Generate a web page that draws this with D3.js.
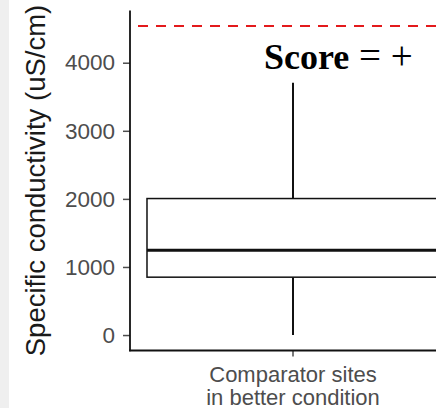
<!DOCTYPE html>
<html><head><meta charset="utf-8">
<script src="https://cdn.jsdelivr.net/npm/d3@7"></script>
<style>html,body{margin:0;padding:0;background:#fff;overflow:hidden}</style>
</head><body>
<script>
const categories = ["Comparator sites\nin better condition"];
const lowerWhisker = [0];
const q1 = [850];
const median = [1245];
const q3 = [2005];
const upperWhisker = [3705];
const thresholdValue = 4540;
const yTicks = [0, 1000, 2000, 3000, 4000];
const yTitle = "Specific conductivity (uS/cm)";
const annotationBold = "Score";
const annotationRest = " = +";

const W = 436, H = 408;
const svg = d3.select("body").append("svg").attr("width", W).attr("height", H);
svg.append("rect").attr("width", W).attr("height", H).attr("fill", "#fff");
svg.append("rect").attr("x", 0).attr("y", 0).attr("width", 9).attr("height", H).attr("fill", "#efefef");

const panel = {left: 130, right: 456, top: 10.5, bottom: 350.5};
const dataMax = Math.max(thresholdValue, d3.max(upperWhisker));
const dataMin = Math.min(0, d3.min(lowerWhisker));
const pad = (dataMax - dataMin) * 0.05;
const y = d3.scaleLinear().domain([dataMin - pad, dataMax + pad]).range([panel.bottom, panel.top]);
const x = d3.scaleBand().domain(categories).range([panel.left, panel.right]).paddingInner(0).paddingOuter(0.0582);

// threshold line
svg.append("line")
  .attr("x1", panel.left).attr("x2", W)
  .attr("y1", y(thresholdValue)).attr("y2", y(thresholdValue))
  .attr("stroke", "#e31a1c").attr("stroke-width", 2)
  .attr("stroke-dasharray", "10,8").attr("stroke-dashoffset", -8);

// boxplot
categories.forEach((c, i) => {
  const cx = x(c) + x.bandwidth() / 2;
  const g = svg.append("g");
  g.append("line").attr("x1", cx).attr("x2", cx).attr("y1", y(q3[i])).attr("y2", y(upperWhisker[i]))
    .attr("stroke", "#111").attr("stroke-width", 2);
  g.append("line").attr("x1", cx).attr("x2", cx).attr("y1", y(q1[i])).attr("y2", y(lowerWhisker[i]))
    .attr("stroke", "#111").attr("stroke-width", 2);
  g.append("rect").attr("x", x(c)).attr("width", x.bandwidth())
    .attr("y", y(q3[i])).attr("height", y(q1[i]) - y(q3[i]))
    .attr("fill", "#fff").attr("stroke", "#111").attr("stroke-width", 1.5);
  g.append("line").attr("x1", x(c)).attr("x2", x(c) + x.bandwidth())
    .attr("y1", y(median[i])).attr("y2", y(median[i]))
    .attr("stroke", "#111").attr("stroke-width", 3);
});

// axes
const yAxis = svg.append("g").attr("transform", `translate(${panel.left},0)`)
  .call(d3.axisLeft(y).tickValues(yTicks).tickSize(7).tickPadding(8).tickFormat(d3.format("d")));
yAxis.select(".domain").remove();
yAxis.selectAll(".tick line").attr("stroke", "#4d4d4d").attr("stroke-width", 1.5);
yAxis.selectAll(".tick text").attr("fill", "#4d4d4d").style("font-family", "Liberation Sans, Arial, sans-serif").style("font-size", "22.5px");

const xAxis = svg.append("g").attr("transform", `translate(0,${panel.bottom})`)
  .call(d3.axisBottom(x).tickSize(6).tickFormat(() => ""));
xAxis.select(".domain").remove();
xAxis.selectAll(".tick line").attr("stroke", "#4d4d4d").attr("stroke-width", 1.5);
xAxis.selectAll(".tick").each(function(d) {
  const lines = d.split("\n");
  lines.forEach((line, k) => {
    d3.select(this).append("text").attr("fill", "#4d4d4d").attr("text-anchor", "middle")
      .style("font-family", "Liberation Sans, Arial, sans-serif").style("font-size", "22px")
      .attr("x", 0).attr("y", 31 + k * 23).text(line);
  });
});

// axis lines
svg.append("line").attr("x1", panel.left).attr("x2", panel.left).attr("y1", panel.top).attr("y2", panel.bottom + 0.75)
  .attr("stroke", "#111").attr("stroke-width", 1.8);
svg.append("line").attr("x1", panel.left - 0.9).attr("x2", W).attr("y1", panel.bottom).attr("y2", panel.bottom)
  .attr("stroke", "#111").attr("stroke-width", 1.8);

// y title
svg.append("text").attr("transform", `translate(45,${(panel.top + panel.bottom) / 2}) rotate(-90)`)
  .attr("text-anchor", "middle").attr("fill", "#1a1a1a")
  .style("font-family", "Liberation Sans, Arial, sans-serif").style("font-size", "27.5px")
  .text(yTitle);

// annotation
const ann = svg.append("text").attr("x", 264).attr("y", 68.5)
  .style("font-family", "Liberation Serif, Times New Roman, serif").attr("fill", "#000");
ann.append("tspan").attr("font-weight", "bold").style("font-size", "36px").text(annotationBold);
ann.append("tspan").style("font-size", "39px").text(annotationRest);
</script>
</body></html>
